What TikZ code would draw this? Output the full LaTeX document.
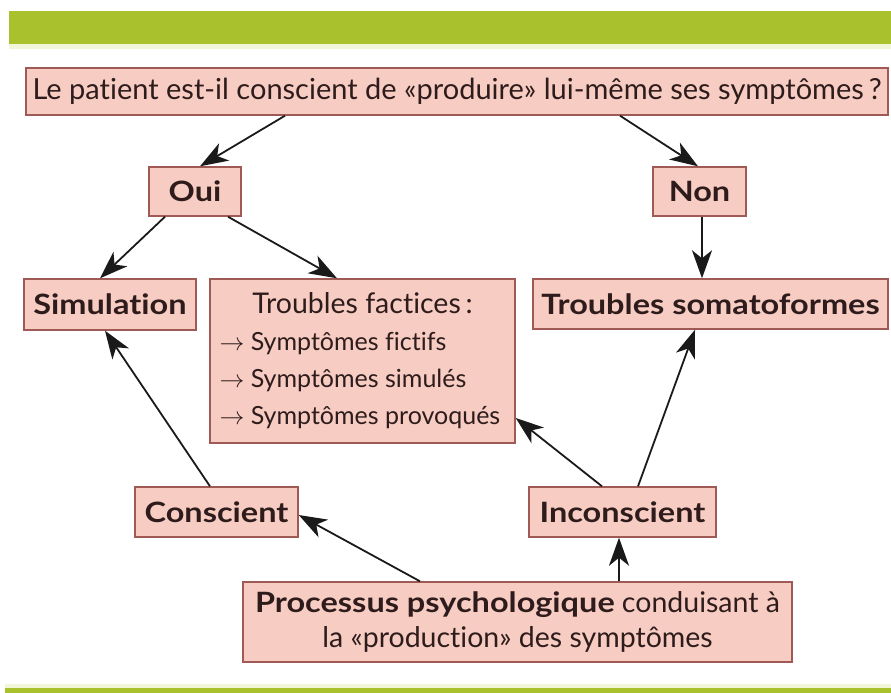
\documentclass[tikz,border=0pt]{standalone}
\usepackage{fontspec}
\setmainfont{Lato}[Ligatures=NoCommon, BoldFeatures={FakeStretch=1.16}]
\usetikzlibrary{arrows.meta}
\definecolor{bargreen}{HTML}{A9C12C}
\definecolor{palegreen}{HTML}{F2F6D8}
\definecolor{boxfill}{HTML}{F7CCC2}
\definecolor{boxline}{HTML}{A05A55}
\definecolor{txt}{HTML}{2E1C1C}
\definecolor{arr}{HTML}{1A1A1A}
\tikzset{
  box/.style={draw=boxline, line width=1.4pt, fill=boxfill, text=txt, inner sep=0pt, anchor=center},
  big/.style={font=\fontsize{29}{34}\selectfont},
  bigb/.style={font=\fontsize{28}{34}\selectfont\bfseries},
  tiphead/.tip={Stealth[length=28pt, width=20pt, inset=8pt]},
  conn/.style={draw=arr, line width=1.8pt, -tiphead},
}
\begin{document}
\begin{tikzpicture}[x=1pt,y=-1pt]
\useasboundingbox (0,0) rectangle (891,693);
% bars
\fill[bargreen] (9,11) rectangle (891,44);
\fill[palegreen] (9,44) rectangle (891,49);
\fill[palegreen] (5,684) rectangle (891,688);
\fill[bargreen] (5,688) rectangle (891,693);
% nodes
\node[box, big, minimum width=862pt, minimum height=47pt] (q) at (457,91.5) {Le patient est-il conscient de «produire» lui-même ses symptômes\,?};
\node[box, bigb, minimum width=92pt, minimum height=49pt] (oui) at (195,191.5) {Oui};
\node[box, bigb, minimum width=93pt, minimum height=49pt] (non) at (699.5,191.5) {Non};
\node[box, bigb, minimum width=172pt, minimum height=51pt] (sim) at (110,304.5) {Simulation};
\node[box, bigb, minimum width=355pt, minimum height=50pt] (ts) at (710.5,304) {Troubles somatoformes};
\node[box, minimum width=305pt, minimum height=164pt, font=\fontsize{25}{37}\selectfont, align=left] (tf) at (362.5,361) {\makebox[286pt][c]{\fontsize{28.5}{34}\selectfont Troubles factices\,:}\\$\rightarrow$ Symptômes fictifs\\$\rightarrow$ Symptômes simulés\\$\rightarrow$ Symptômes provoqués};
\node[box, bigb, minimum width=163pt, minimum height=50pt] (con) at (216.5,512) {Conscient};
\node[box, bigb, minimum width=187pt, minimum height=50pt] (inc) at (622.5,512) {Inconscient};
\node[box, minimum width=549pt, minimum height=80pt, font=\fontsize{28.5}{35}\selectfont, align=center] (proc) at (517.5,622) {{\fontsize{28}{35}\selectfont\bfseries Processus psychologique} conduisant à\\la «production» des symptômes};
% connectors
\draw[conn] ([xshift=-172pt]q.south) -- ([xshift=5pt]oui.north);
\draw[conn] ([xshift=163pt]q.south) -- ([xshift=-1.5pt]non.north);
\draw[conn] ([xshift=2.5pt]non.south) -- ([xshift=2.5pt]non.south |- ts.north);
\draw[conn] ([xshift=-30pt]oui.south) -- ([xshift=-10pt]sim.north);
\draw[conn] ([xshift=33pt]oui.south) -- ([xshift=-25.5pt]tf.north);
\draw[conn] ([xshift=-6.5pt]con.north) -- ([xshift=-5pt]sim.south);
\draw[conn] ([xshift=-97.5pt]proc.north) -- ([yshift=-3pt]con.east);
\draw[conn] ([xshift=101.5pt]proc.north) -- ([xshift=101.5pt]proc.north |- inc.south);
\draw[conn] ([xshift=-20.5pt]inc.north) -- ([yshift=-57pt]tf.east);
\draw[conn] ([xshift=15.5pt]inc.north) -- ([xshift=-15.5pt]ts.south);
\end{tikzpicture}
\end{document}
